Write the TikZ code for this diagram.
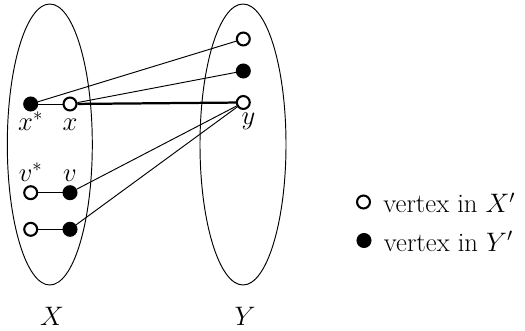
\RequirePackage{fix-cm}
\documentclass[tikz,border=0pt]{standalone}
\usepackage{amsmath,amssymb}
\usepackage{tikz}
\usetikzlibrary{positioning}

\tikzset{
  openv/.style={circle, draw, line width=1.2pt, fill=white, minimum size=7.5pt, inner sep=0pt},
  fullv/.style={circle, draw, line width=1.2pt, fill=black, minimum size=7.5pt, inner sep=0pt},
  lbldown/.style={inner sep=1pt, text height=9.75pt, text depth=0pt},
  lblup/.style={inner sep=2pt, text depth=0pt},
  match/.style={line width=1.3pt},
  edge/.style={line width=0.55pt},
  part/.style={line width=0.55pt}
}

\begin{document}
\begin{tikzpicture}[x=0.0204cm, y=-0.0204cm, font=\fontsize{15.5}{18}\selectfont]
  \useasboundingbox (0,0) rectangle (525,331);
  % the two sides
  \draw[part] (49.8,144.5) ellipse [x radius=42.5, y radius=140.5];
  \draw[part] (243,144.5) ellipse [x radius=43, y radius=140.5];
  \node[anchor=base] (X) at (52,325) {$X$};
  \node[anchor=base] (Y) at (245,325) {$Y$};
  % vertices of X
  \node[fullv, label={[lbldown]below:$x^*$}] (xs) at (30.7,104) {};
  \node[openv, label={[lbldown]below:$x$}] (x) at (70,104) {};
  \node[openv, label={[lblup]above:$v^*$}] (vs) at (30.7,192.7) {};
  \node[fullv, label={[lblup]above:$v$}] (v) at (70,192.7) {};
  \node[openv] (ws) at (30.7,229.3) {};
  \node[fullv] (w) at (70,229.3) {};
  % vertices of Y
  \node[openv] (ya) at (243.3,39) {};
  \node[fullv] (yb) at (243.3,71) {};
  \node[openv, label={[inner sep=1.5pt, xshift=3pt]below:$y$}] (y) at (243.3,102.5) {};
  % edges
  \draw[edge] (xs) -- (x);
  \draw[edge] (vs) -- (v);
  \draw[edge] (ws) -- (w);
  \draw[edge] (xs) -- (ya);
  \draw[edge] (x) -- (yb);
  \draw[match] (x) -- (y);
  \draw[edge] (y) -- (v);
  \draw[edge] (y) -- (w);
  % legend
  \node[openv, label={[inner sep=7pt, yshift=-0.5pt]right:vertex in $X'$}] (legx) at (363.5,202) {};
  \node[fullv, label={[inner sep=7pt, yshift=-0.5pt]right:vertex in $Y'$}] (legy) at (364,240.5) {};
\end{tikzpicture}
\end{document}
